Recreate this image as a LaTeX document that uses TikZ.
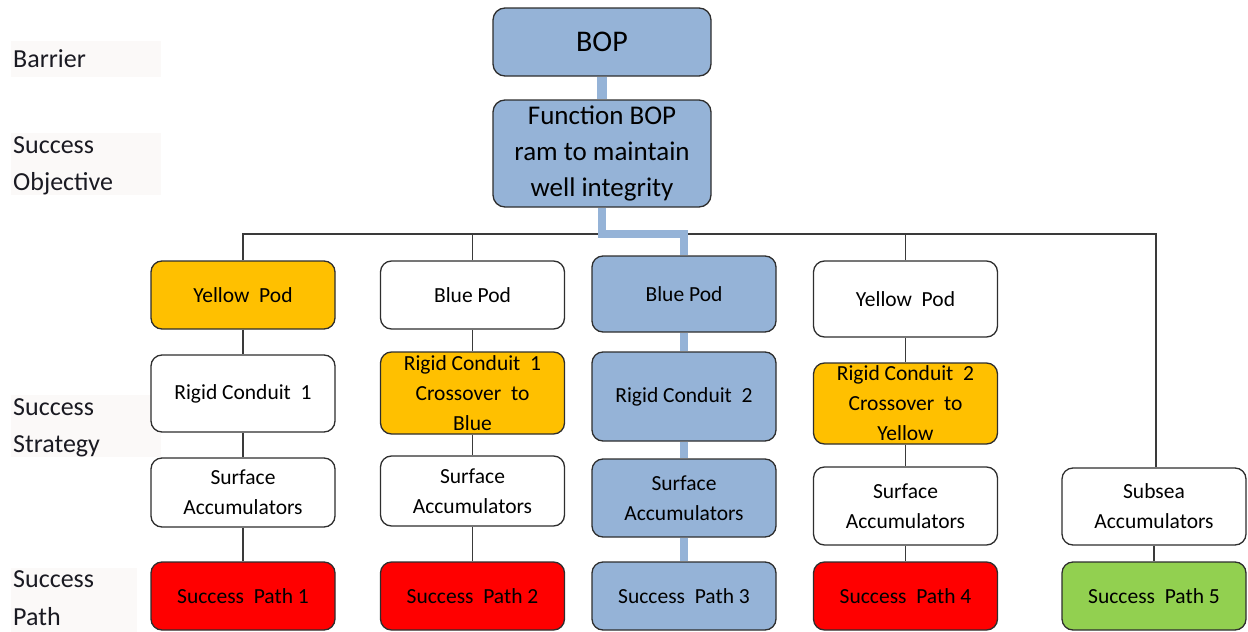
\documentclass[tikz,border=0pt]{standalone}
\usepackage{fontspec}
\setmainfont{Carlito}
\definecolor{bopblue}{HTML}{95B3D7}
\definecolor{podorange}{HTML}{FFC000}
\definecolor{pathred}{HTML}{FF0000}
\definecolor{pathgreen}{HTML}{92D050}
\definecolor{boxline}{HTML}{2E2E2E}
\definecolor{linegray}{HTML}{3A3A3A}
\definecolor{labbg}{HTML}{FBF9F8}
\definecolor{labtext}{HTML}{1A1A22}
\begin{document}
\begin{tikzpicture}[x=1pt,y=-1pt,
  box/.style={draw=boxline, line width=1.3pt, rounded corners=11pt, minimum width=184pt,
    inner sep=0pt, font=\fontsize{21.5}{30}\selectfont, align=center, text=black},
  bigbox/.style={box, rounded corners=12pt, minimum width=218pt},
  txt/.style={inner sep=0pt, font=\fontsize{21.5}{30}\selectfont, align=center, text=black},
  conn/.style={draw=linegray, line width=1.3pt},
  bluec/.style={draw=bopblue, line width=8pt},
  labtxt/.style={anchor=base west, inner sep=0pt, font=\fontsize{26}{37}\selectfont, text=labtext}
]
\useasboundingbox (0,0) rectangle (1248,632);

% row labels
\fill[labbg] (11,41) rectangle (161,77);
\node[labtxt] (lbar) at (13,67) {Barrier};
\fill[labbg] (11,133) rectangle (161,195);
\node[labtxt] (lso1) at (13,153) {Success};
\node[labtxt] (lso2) at (13,190) {Objective};
\fill[labbg] (11,395) rectangle (161,457);
\node[labtxt] (lss1) at (13,415) {Success};
\node[labtxt] (lss2) at (13,452) {Strategy};
\fill[labbg] (11,568) rectangle (137,632);
\node[labtxt] (lsp1) at (13,587) {Success};
\node[labtxt] (lsp2) at (13,625) {Path};

% top
\node[bigbox, fill=bopblue, minimum height=68pt, font=\fontsize{30}{34}\selectfont] (bop) at (602,42) {BOP};
\node[bigbox, fill=bopblue, minimum height=107pt, font=\fontsize{27}{36}\selectfont] (fn) at (602,153.5) {Function BOP\\ram to maintain\\well integrity};

% column 1
\node[box, fill=podorange, minimum height=68pt] (yp1) at (243,295) {Yellow~ Pod};
\node[box, fill=white, minimum height=77pt] (rc1) at (243,393.5) {Rigid Conduit~ 1};
\node[box, fill=white, minimum height=69pt] (sa1) at (243,492.5) {Surface\\Accumulators};
\node[box, fill=pathred, minimum height=68pt] (sp1) at (243,596) {Success~ Path 1};

% column 2
\node[box, fill=white, minimum height=68pt] (bp2) at (472.5,295) {Blue Pod};
\node[box, fill=podorange, minimum height=82pt] (cb2) at (472.5,393) {};
\node[txt] (cb2t) at (cb2.center) {Rigid Conduit~ 1\\Crossover~ to\\Blue};
\node[box, fill=white, minimum height=70pt] (sa2) at (472.5,491) {Surface\\Accumulators};
\node[box, fill=pathred, minimum height=68pt] (sp2) at (472.5,596) {Success~ Path 2};

% column 3
\node[box, fill=bopblue, minimum height=76pt] (bp3) at (684,294) {Blue Pod};
\node[box, fill=bopblue, minimum height=89pt] (rc3) at (684,396.5) {Rigid Conduit~ 2};
\node[box, fill=bopblue, minimum height=78pt] (sa3) at (684,498) {Surface\\Accumulators};
\node[box, fill=bopblue, minimum height=68pt] (sp3) at (684,596) {Success~ Path 3};

% column 4
\node[box, fill=white, minimum height=76pt] (yp4) at (905.5,299) {Yellow~ Pod};
\node[box, fill=podorange, minimum height=81pt] (cy4) at (905.5,403.5) {};
\node[txt] (cy4t) at (cy4.center) {Rigid Conduit~ 2\\Crossover~ to\\Yellow};
\node[box, fill=white, minimum height=78pt] (sa4) at (905.5,506) {Surface\\Accumulators};
\node[box, fill=pathred, minimum height=68pt] (sp4) at (905.5,596) {Success~ Path 4};

% column 5
\node[box, fill=white, minimum height=77pt] (ss5) at (1154,506.5) {Subsea\\Accumulators};
\node[box, fill=pathgreen, minimum height=68pt] (sp5) at (1154,596) {Success~ Path 5};

% bus
\coordinate (busR) at (1156,234);
\coordinate (j3) at (684,234);
\draw[conn] (yp1.north) -- (yp1.north |- busR) -- (busR) -- (busR |- ss5.north);
\draw[conn] (bp2.north) -- (bp2.north |- busR);
\draw[conn] (yp4.north) -- (yp4.north |- busR);

% thin column connectors
\draw[conn] (yp1) -- (rc1);
\draw[conn] (rc1) -- (sa1);
\draw[conn] (sa1) -- (sp1);
\draw[conn] (bp2) -- (cb2);
\draw[conn] (cb2) -- (sa2);
\draw[conn] (sa2) -- (sp2);
\draw[conn] (yp4) -- (cy4);
\draw[conn] (cy4) -- (sa4);
\draw[conn] (sa4) -- (sp4);
\draw[conn] (ss5) -- (sp5);

% success path 3 (blue, thick)
\draw[bluec, line width=10pt] (bop) -- (fn);
\draw[bluec] (fn.south) |- (j3) -- (bp3.north);
\draw[bluec] (bp3) -- (rc3);
\draw[bluec] (rc3) -- (sa3);
\draw[bluec] (sa3) -- (sp3);
\end{tikzpicture}
\end{document}
